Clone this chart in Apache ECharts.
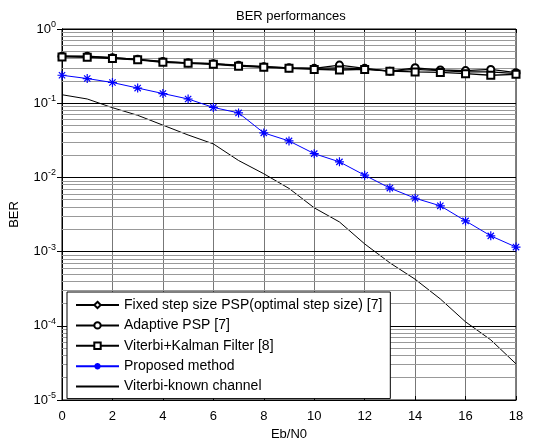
<!DOCTYPE html>
<html>
<head>
	<meta charset="UTF-8">
	<title>BER performances</title>
	<script src="https://cdn.jsdelivr.net/npm/echarts@6/dist/echarts.min.js"></script>
</head>
<body style="margin:0;">
<div id="main" style="width:550px;height:446px;"></div>
<script type="text/javascript">
	var ebn0 = [0,1,2,3,4,5,6,7,8,9,10,11,12,13,14,15,16,17,18];
	var fixedPsp = [0.43,0.425,0.41,0.39,0.36,0.35,0.34,0.32,0.31,0.30,0.295,0.30,0.29,0.27,0.285,0.275,0.265,0.265,0.25];
	var adaptivePsp = [0.43,0.43,0.41,0.39,0.365,0.35,0.34,0.325,0.31,0.30,0.295,0.326,0.295,0.27,0.30,0.28,0.275,0.285,0.258];
	var kalman = [0.42,0.415,0.40,0.385,0.355,0.345,0.335,0.315,0.305,0.295,0.285,0.28,0.285,0.27,0.264,0.26,0.25,0.238,0.245];
	var proposed = [0.238,0.215,0.19,0.16,0.135,0.114,0.0877,0.074,0.0398,0.031,0.0209,0.0162,0.0107,0.00718,0.00524,0.00414,0.00259,0.00163,0.00115];
	var knownChannel = [0.13,0.114,0.087,0.0687,0.0506,0.0373,0.0283,0.0169,0.0112,0.0071,0.00389,0.00251,0.00127,0.000705,0.000424,0.00023,0.000113,0.0000646,0.0000307];
	var seriesNames = ['Fixed step size PSP(optimal step size) [7]','Adaptive PSP [7]','Viterbi+Kalman Filter [8]','Proposed method','Viterbi-known channel'];

	var font = 'Liberation Sans, Arial, sans-serif';
	var star = 'path://M0,-5L0,5M-5,0L5,0M-3.5,-3.5L3.5,3.5M-3.5,3.5L3.5,-3.5';

	function pairs(ys) {
		return ys.map(function(v, i) { return [ebn0[i], v]; });
	}

	// horizontal log grid: decades and 2..9 in between
	var minorLines = [];
	var majorLines = [];
	for (var e = -5; e < 0; e++) {
		for (var m = 2; m <= 9; m++) {
			minorLines.push({yAxis: m * Math.pow(10, e)});
		}
		majorLines.push({yAxis: Math.pow(10, e)});
	}

	var myChart = echarts.init(document.getElementById('main'));

	function blackSeries(name, data, symbol, size) {
		return {
			name: name,
			type: 'line',
			data: pairs(data),
			symbol: symbol,
			symbolSize: size,
			showSymbol: true,
			lineStyle: {color: '#000', width: 1.3},
			itemStyle: {color: '#000', borderWidth: 1},
			z: 5
		};
	}

	function gridLines(lines, color) {
		return {
			type: 'line',
			data: [],
			silent: true,
			z: 1,
			markLine: {
				silent: true,
				symbol: 'none',
				precision: 12,
				label: {show: false},
				animation: false,
				lineStyle: {color: color, type: 'solid', width: 1},
				data: lines
			}
		};
	}

	var option = {
		backgroundColor: '#fff',
		animation: false,
		textStyle: {fontFamily: font},
		title: {
			text: 'BER performances',
			left: 231,
			top: 5,
			textStyle: {fontSize: 13, fontWeight: 'normal', color: '#000', fontFamily: font}
		},
		grid: {
			left: 59, right: 34, top: 29, bottom: 40,
			show: true, borderColor: '#000', borderWidth: 1
		},
		legend: {
			orient: 'vertical',
			left: 67, top: 292,
			z: 100,
			backgroundColor: '#fff',
			borderColor: '#000',
			borderWidth: 1,
			padding: [6, 8, 5, 8],
			itemWidth: 43,
			itemHeight: 8,
			itemGap: 6.4,
			data: [
				seriesNames[0], seriesNames[1], seriesNames[2], seriesNames[3],
				{name: seriesNames[4], itemStyle: {opacity: 0}}
			],
			textStyle: {fontSize: 14, color: '#000', fontFamily: font}
		},
		xAxis: [{
			type: 'value',
			min: 0, max: 18, interval: 2,
			name: 'Eb/N0',
			nameLocation: 'middle',
			nameGap: 28,
			nameTextStyle: {fontSize: 13, color: '#000', fontFamily: font},
			axisLine: {show: true, lineStyle: {color: '#000'}},
			axisTick: {inside: true, length: 4, lineStyle: {color: '#000'}},
			axisLabel: {fontSize: 13, color: '#000', fontFamily: font, margin: 10},
			splitLine: {show: true, lineStyle: {color: '#777', width: 1}}
		}, {
			type: 'value',
			position: 'top',
			min: 0, max: 18, interval: 2,
			axisLine: {show: true, lineStyle: {color: '#000'}},
			axisTick: {inside: true, length: 4, lineStyle: {color: '#000'}},
			axisLabel: {show: false},
			splitLine: {show: false}
		}],
		yAxis: [{
			type: 'log',
			logBase: 10,
			min: 1e-5, max: 1,
			name: 'BER',
			nameLocation: 'middle',
			nameGap: 41,
			nameTextStyle: {fontSize: 13, color: '#000', fontFamily: font},
			axisLine: {show: true, lineStyle: {color: '#000'}},
			axisTick: {inside: true, length: 5, lineStyle: {color: '#000'}},
			axisLabel: {
				margin: 6,
				formatter: function(v) {
					return '{b|10}{s|' + Math.round(Math.log10(v)) + '}';
				},
				rich: {
					b: {fontSize: 13, color: '#000', fontFamily: font},
					s: {fontSize: 9, color: '#000', fontFamily: font, verticalAlign: 'top', padding: [0, 0, 9, 0]}
				}
			},
			splitLine: {show: false}
		}, {
			type: 'log',
			logBase: 10,
			position: 'right',
			min: 1e-5, max: 1,
			axisLine: {show: true, lineStyle: {color: '#000'}},
			axisTick: {inside: true, length: 5, lineStyle: {color: '#000'}},
			axisLabel: {show: false},
			splitLine: {show: false}
		}],
		series: [
			blackSeries(seriesNames[0], fixedPsp, 'emptyDiamond', 6),
			blackSeries(seriesNames[1], adaptivePsp, 'emptyCircle', 7),
			blackSeries(seriesNames[2], kalman, 'emptyRect', 7),
			{
				name: seriesNames[3],
				type: 'line',
				data: pairs(proposed),
				symbol: star,
				symbolSize: 9,
				lineStyle: {color: '#0000ff', width: 1},
				itemStyle: {color: 'none', borderColor: '#0000ff', borderWidth: 1.2},
				z: 6
			},
			{
				name: seriesNames[4],
				type: 'line',
				data: pairs(knownChannel),
				symbol: 'none',
				lineStyle: {color: '#000', width: 1},
				itemStyle: {color: '#000'},
				z: 4
			},
			gridLines(minorLines, '#999'),
			gridLines(majorLines, '#000')
		]
	};
	myChart.setOption(option);
</script>
</body>
</html>
